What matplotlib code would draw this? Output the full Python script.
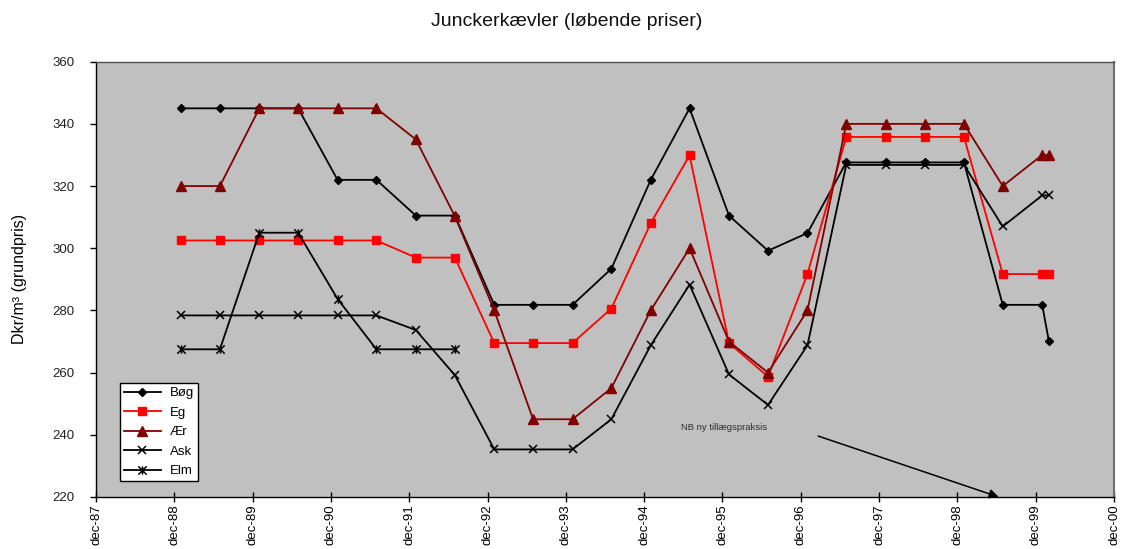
import matplotlib
matplotlib.use("Agg")
import matplotlib.pyplot as plt
import matplotlib.dates as mdates
from matplotlib.ticker import FuncFormatter, FixedLocator
from matplotlib.path import Path
import pandas as pd

plt.rcParams['font.family'] = ['Liberation Sans', 'DejaVu Sans']

# ---- data ----
dates = ["1989-01-01", "1989-07-01", "1990-01-01", "1990-07-01", "1991-01-01", "1991-07-01",
         "1992-01-01", "1992-07-01", "1993-01-01", "1993-07-01", "1994-01-01", "1994-07-01",
         "1995-01-01", "1995-07-01", "1996-01-01", "1996-07-01", "1997-01-01", "1997-07-01",
         "1998-01-01", "1998-07-01", "1999-01-01", "1999-07-01", "2000-01-01", "2000-02-01"]
boeg = [345, 345, 345, 345, 322, 322, 310.5, 310.5, 281.8, 281.8, 281.8, 293.4,
        322, 345, 310.5, 299.2, 304.9, 327.6, 327.6, 327.6, 327.6, 281.8, 281.8, 270.2]
eg = [302.5, 302.5, 302.5, 302.5, 302.5, 302.5, 297, 297, 269.5, 269.5, 269.5, 280.6,
      308.1, 329.9, 269.5, 258.7, 291.7, 335.8, 335.8, 335.8, 335.8, 291.7, 291.7, 291.7]
aer = [320, 320, 345, 345, 345, 345, 335, 310.3, 280, 245, 245, 255,
       280, 300, 270, 260, 280, 340, 340, 340, 340, 320, 330, 330]
ask = [278.4, 278.4, 278.4, 278.4, 278.4, 278.4, 273.7, 259.2, 235.3, 235.3, 235.3, 245,
       268.8, 288.3, 259.4, 249.6, 268.8, 326.8, 326.8, 326.8, 326.8, 307, 317, 317]
elm = [267.5, 267.5, 305, 305, 283.7, 267.5, 267.5, 267.5]

tick_years = list(range(1987, 2001))
y_ticks = [220, 240, 260, 280, 300, 320, 340, 360]

title = "Junckerkævler (løbende priser)"
ylabel = "Dkr/m³ (grundpris)"
note = "NB ny tillægspraksis"
note_pos = ("1995-05-20", 242.5)
arrow_tail = ("1997-02-20", 239.6)
arrow_head = ("1999-06-12", 220)

# ---- figure ----
x = pd.to_datetime(dates)
x_elm = x[:len(elm)]

fig = plt.figure(figsize=(11.22, 5.49), dpi=100)
ax = fig.add_axes([96 / 1122, 1 - 497 / 549, (1114 - 96) / 1122, (497 - 61.7) / 549])
ax.set_facecolor('#C0C0C0')

star_path = Path([(-1, -1), (1, 1), (-1, 1), (1, -1), (0, -1), (0, 1)],
                 [Path.MOVETO, Path.LINETO, Path.MOVETO, Path.LINETO, Path.MOVETO, Path.LINETO])

lw = 1.3
ax.plot(x, boeg, color='black', lw=lw, marker='D', ms=4.5, mfc='black', mec='black', label='Bøg')
ax.plot(x, eg, color='#FF0000', lw=lw, marker='s', ms=6, mfc='#FF0000', mec='#FF0000', label='Eg')
ax.plot(x, aer, color='#800000', lw=lw, marker='^', ms=7, mfc='#800000', mec='#800000', label='Ær')
ax.plot(x, ask, color='black', lw=lw, marker='x', ms=6, mew=1.1, label='Ask')
ax.plot(x_elm, elm, color='black', lw=lw, marker=star_path, ms=6, mew=1.1, label='Elm')

ax.set_xlim(pd.Timestamp("1987-12-01"), pd.Timestamp("2000-12-01"))
ax.set_ylim(220, 360)

xt = [mdates.date2num(pd.Timestamp(f"{yy}-12-01")) for yy in tick_years]
ax.xaxis.set_major_locator(FixedLocator(xt))
ax.xaxis.set_major_formatter(FuncFormatter(lambda v, p: "dec-" + mdates.num2date(v).strftime("%y")))
ax.set_yticks(y_ticks)

ax.tick_params(axis='x', direction='inout', length=7, width=1, labelsize=9.5, pad=2,
               labelrotation=90, colors='black')
ax.tick_params(axis='y', direction='out', length=4.3, width=1, labelsize=9.5, pad=11, colors='black')
for lab in ax.get_yticklabels():
    lab.set_color('#202020')

for s in ('left', 'bottom'):
    ax.spines[s].set_color('black')
    ax.spines[s].set_linewidth(1)
ax.spines['top'].set_color('#505050')
ax.spines['top'].set_linewidth(1)
ax.spines['right'].set_color('#707070')
ax.spines['right'].set_linewidth(1.5)

ax.set_ylabel(ylabel, fontsize=11.5)
ax.yaxis.set_label_coords(-(96 - 27) / 1018, 0.5)

fig.text(567 / 1122, 1 - 22 / 549, title, ha='center', va='center', fontsize=14, color='#101010')

leg = ax.legend(loc='upper left', bbox_to_anchor=(120 / 1122, 1 - 383 / 549),
                bbox_transform=fig.transFigure, fontsize=9.5, frameon=True, fancybox=False,
                edgecolor='black', facecolor='white', framealpha=1, handlelength=2.8,
                handletextpad=0.7, labelspacing=0.55, borderpad=0.3, borderaxespad=0)
leg.get_frame().set_linewidth(1)

ax.text(pd.Timestamp(note_pos[0]), note_pos[1], note, fontsize=6.8, color='#303030',
        ha='left', va='center')
ax.annotate('', xy=(pd.Timestamp(arrow_head[0]), arrow_head[1]),
            xytext=(pd.Timestamp(arrow_tail[0]), arrow_tail[1]),
            arrowprops=dict(arrowstyle='-|>', color='black', lw=1.1, mutation_scale=14,
                            shrinkA=0, shrinkB=0),
            annotation_clip=False)

fig.savefig("out.png", dpi=100)
